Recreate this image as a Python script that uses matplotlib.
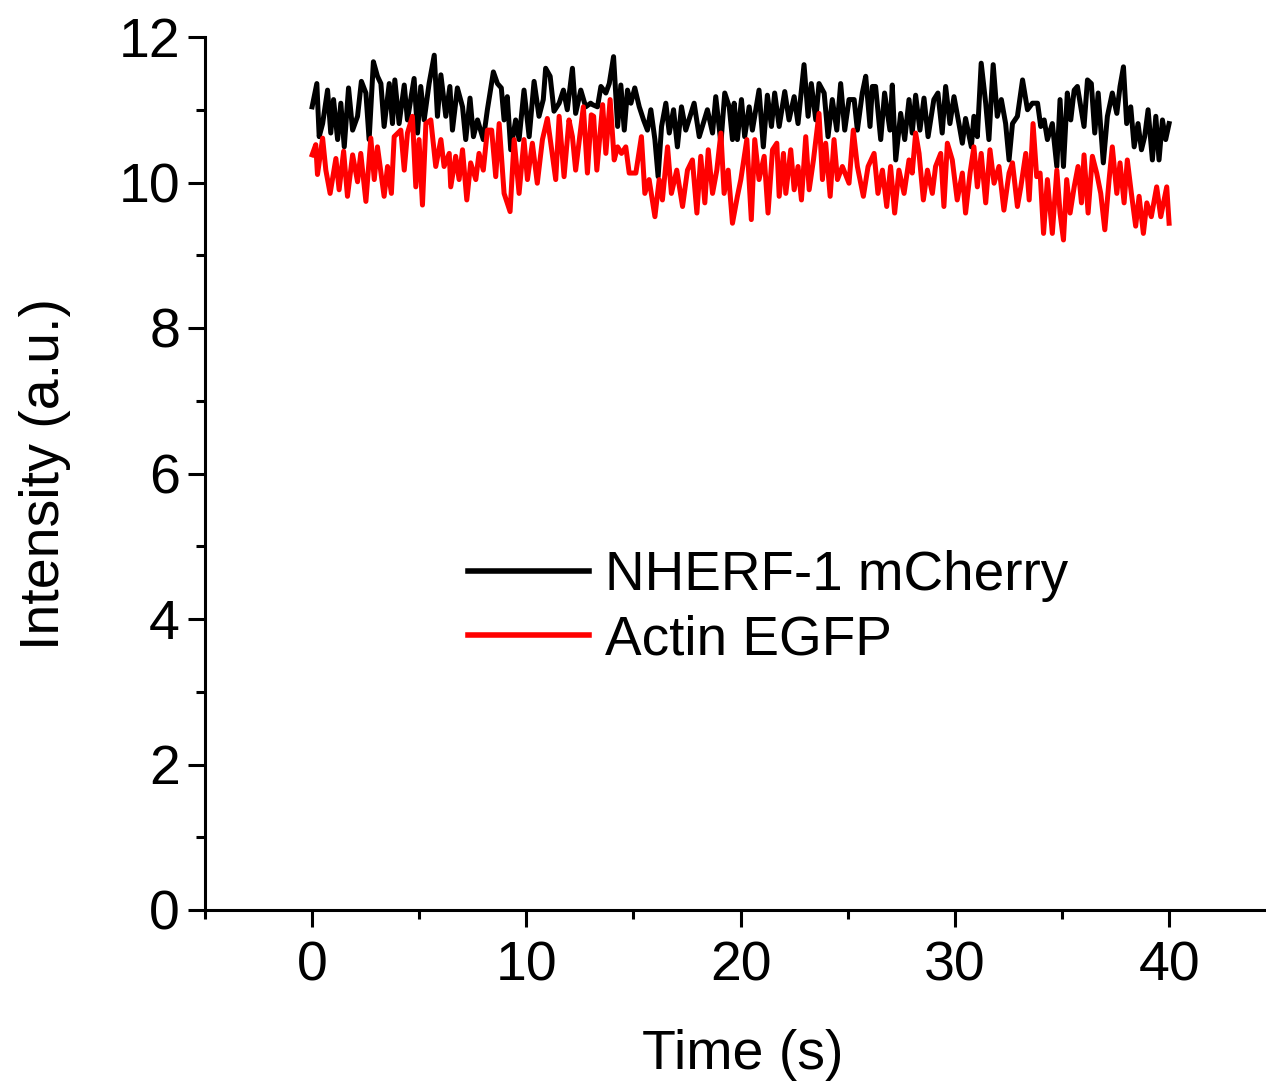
import matplotlib
matplotlib.use("Agg")
import matplotlib.pyplot as plt
from matplotlib.ticker import MultipleLocator

plt.rcParams['font.family'] = ['Liberation Sans', 'DejaVu Sans']

# NHERF-1 mCherry (black) - time (s), intensity (a.u.)
t_black = [0.0, 0.22, 0.33, 0.49, 0.72, 0.87, 1.0, 1.19, 1.34, 1.50, 1.70, 1.89, 2.12, 2.30, 2.51, 2.66,
           2.86, 3.05, 3.21, 3.36, 3.60, 3.75, 3.86, 4.06, 4.30, 4.45, 4.76, 4.92, 5.07, 5.23, 5.46, 5.70,
           5.85, 6.01, 6.24, 6.43, 6.55, 6.78, 7.02, 7.17, 7.37, 7.53, 7.72, 7.99, 8.18, 8.46, 8.65, 8.83,
           8.96, 9.11, 9.27, 9.50, 9.66, 9.89, 10.13, 10.36, 10.59, 10.79, 10.90, 11.11, 11.29, 11.53, 11.73,
           11.91, 12.15, 12.30, 12.54, 12.77, 13.00, 13.09, 13.32, 13.48, 13.71, 13.87, 14.07, 14.26, 14.41,
           14.57, 14.72, 14.88, 15.06, 15.27, 15.47, 15.65, 15.81, 16.00, 16.15, 16.31, 16.51, 16.67, 16.87,
           17.05, 17.24, 17.44, 17.83, 18.07, 18.45, 18.69, 18.84, 19.08, 19.26, 19.47, 19.62, 19.70, 19.85,
           20.04, 20.19, 20.40, 20.55, 20.86, 21.06, 21.25, 21.44, 21.59, 21.80, 22.06, 22.26, 22.50, 22.68,
           22.96, 23.15, 23.30, 23.51, 23.66, 23.90, 24.08, 24.28, 24.49, 24.67, 24.86, 25.06, 25.30, 25.45,
           25.68, 25.84, 26.04, 26.15, 26.30, 26.54, 26.72, 26.97, 27.08, 27.24, 27.47, 27.66, 27.86, 28.01,
           28.17, 28.37, 28.56, 28.75, 29.02, 29.21, 29.41, 29.57, 29.77, 29.96, 30.19, 30.35, 30.50, 30.77,
           30.89, 31.05, 31.23, 31.44, 31.59, 31.79, 31.98, 32.17, 32.37, 32.53, 32.69, 32.92, 33.16, 33.39,
           33.62, 33.86, 34.01, 34.17, 34.32, 34.55, 34.76, 34.91, 35.07, 35.25, 35.41, 35.57, 35.72, 35.88,
           36.03, 36.19, 36.37, 36.53, 36.69, 36.93, 37.12, 37.35, 37.56, 37.71, 37.87, 38.02, 38.21, 38.37,
           38.55, 38.71, 38.86, 39.02, 39.22, 39.38, 39.53, 39.69, 39.84, 40.0]
v_black = [11.04, 11.36, 10.63, 10.81, 11.27, 10.68, 11.14, 10.59, 11.09, 10.49, 11.30, 10.72, 10.91, 11.39,
           11.23, 10.59, 11.66, 11.46, 11.36, 10.77, 11.36, 10.81, 11.41, 10.81, 11.34, 10.86, 11.43, 10.68,
           11.32, 10.86, 11.36, 11.75, 10.91, 11.48, 10.91, 11.32, 10.72, 11.30, 11.04, 10.59, 11.16, 10.63,
           10.86, 10.59, 11.00, 11.52, 11.36, 11.30, 10.86, 11.18, 10.45, 10.86, 10.59, 11.27, 10.63, 11.39,
           10.91, 11.14, 11.57, 11.46, 10.98, 11.09, 11.27, 11.00, 11.57, 10.95, 11.27, 11.04, 11.09, 11.07,
           11.04, 11.32, 11.23, 11.36, 11.73, 10.77, 11.34, 10.72, 11.27, 11.09, 11.30, 11.04, 10.86, 10.72,
           11.00, 10.59, 10.08, 10.77, 11.09, 10.68, 11.00, 10.49, 11.04, 10.72, 11.09, 10.63, 11.00, 10.68,
           11.18, 10.54, 11.23, 11.04, 10.59, 11.09, 10.59, 11.14, 10.63, 11.04, 10.72, 11.27, 10.49, 11.20,
           10.77, 11.23, 10.77, 11.25, 10.86, 11.18, 10.81, 11.62, 10.91, 11.36, 10.86, 11.36, 11.23, 10.63,
           11.14, 10.72, 11.36, 10.72, 11.14, 11.14, 10.72, 11.23, 11.46, 10.77, 11.32, 11.32, 10.59, 11.23,
           10.72, 11.34, 10.31, 10.95, 10.59, 11.14, 10.68, 11.20, 10.72, 11.16, 10.63, 11.14, 11.23, 10.68,
           11.32, 10.81, 11.18, 10.81, 10.54, 10.88, 10.49, 10.91, 10.63, 11.64, 11.09, 10.59, 11.62, 10.91,
           11.14, 10.81, 10.31, 10.81, 10.91, 11.41, 11.00, 11.09, 11.09, 10.77, 10.86, 10.59, 10.81, 10.22,
           11.14, 10.22, 11.23, 10.86, 11.27, 11.32, 11.04, 10.77, 11.41, 11.36, 10.68, 11.23, 10.27, 10.91,
           11.23, 10.95, 11.32, 11.59, 10.81, 11.04, 10.49, 10.81, 10.45, 10.63, 11.00, 10.31, 10.91, 10.31,
           10.86, 10.59, 10.81]

# Actin EGFP (red) - time (s), intensity (a.u.)
t_red = [0.0, 0.17, 0.25, 0.49, 0.64, 0.84, 1.11, 1.26, 1.47, 1.65, 1.89, 2.12, 2.27, 2.51, 2.74, 2.90, 3.05,
         3.36, 3.52, 3.70, 3.83, 4.14, 4.30, 4.45, 4.68, 4.84, 4.99, 5.15, 5.31, 5.54, 5.77, 6.01, 6.16, 6.40,
         6.47, 6.70, 6.86, 7.02, 7.22, 7.40, 7.64, 7.79, 7.99, 8.18, 8.38, 8.57, 8.73, 8.96, 9.24, 9.43, 9.66,
         9.89, 10.05, 10.28, 10.51, 10.75, 10.98, 11.14, 11.37, 11.53, 11.76, 11.99, 12.15, 12.30, 12.66,
         12.85, 13.03, 13.14, 13.29, 13.56, 13.71, 13.91, 14.10, 14.26, 14.44, 14.64, 14.80, 15.11, 15.37,
         15.53, 15.73, 16.00, 16.20, 16.35, 16.59, 16.77, 17.02, 17.29, 17.52, 17.75, 17.96, 18.14, 18.33,
         18.49, 18.69, 18.89, 19.08, 19.23, 19.42, 19.62, 19.85, 20.01, 20.29, 20.50, 20.66, 20.86, 21.10,
         21.28, 21.49, 21.69, 21.80, 22.00, 22.11, 22.34, 22.50, 22.68, 22.84, 23.04, 23.20, 23.40, 23.66,
         23.82, 23.97, 24.18, 24.36, 24.52, 24.75, 25.06, 25.26, 25.45, 25.73, 25.95, 26.23, 26.41, 26.62,
         26.82, 27.00, 27.19, 27.39, 27.63, 27.86, 28.01, 28.17, 28.33, 28.53, 28.72, 28.95, 29.10, 29.34,
         29.49, 29.65, 29.88, 30.11, 30.35, 30.50, 30.71, 30.89, 31.05, 31.23, 31.44, 31.64, 31.83, 32.06,
         32.29, 32.53, 32.69, 32.92, 33.08, 33.31, 33.47, 33.65, 33.82, 33.98, 34.14, 34.32, 34.55, 34.76,
         34.91, 35.07, 35.22, 35.38, 35.57, 35.75, 35.91, 36.03, 36.22, 36.42, 36.62, 36.81, 37.00, 37.20,
         37.35, 37.56, 37.71, 37.90, 38.05, 38.24, 38.44, 38.60, 38.80, 38.96, 39.17, 39.42, 39.61, 39.89,
         40.0]
v_red = [10.38, 10.52, 10.11, 10.61, 10.17, 9.85, 10.33, 9.90, 10.43, 9.81, 10.38, 10.01, 10.40, 9.74, 10.61,
         10.04, 10.49, 9.81, 10.22, 9.85, 10.63, 10.72, 10.17, 10.68, 10.91, 9.94, 10.59, 9.69, 10.81, 10.86,
         10.22, 10.59, 10.22, 10.40, 9.94, 10.36, 10.04, 10.45, 9.76, 10.27, 10.04, 10.40, 10.17, 10.72, 10.72,
         10.08, 10.81, 9.85, 9.60, 10.59, 9.85, 10.59, 10.04, 10.54, 9.99, 10.59, 10.88, 10.54, 10.04, 10.91,
         10.08, 10.86, 10.63, 10.17, 11.04, 10.13, 10.93, 10.91, 10.17, 11.07, 10.40, 11.14, 10.31, 10.49,
         10.40, 10.49, 10.13, 10.13, 10.63, 9.85, 10.04, 9.53, 10.04, 9.76, 10.49, 9.85, 10.17, 9.67, 10.17,
         10.31, 9.58, 10.36, 9.72, 10.45, 9.85, 10.17, 10.68, 9.85, 10.17, 9.44, 9.81, 10.04, 10.59, 9.49,
         10.59, 10.04, 10.36, 9.58, 10.45, 10.54, 9.81, 10.40, 9.85, 10.45, 9.90, 10.22, 9.76, 10.63, 9.90,
         10.31, 10.95, 10.04, 10.54, 9.81, 10.59, 10.04, 10.22, 9.99, 10.72, 10.22, 9.81, 10.22, 10.40, 9.85,
         10.17, 9.67, 10.22, 9.58, 10.17, 9.85, 10.31, 10.13, 10.68, 10.40, 9.76, 10.17, 9.85, 10.22, 10.40,
         9.67, 10.54, 10.31, 9.76, 10.13, 9.58, 10.13, 10.49, 9.94, 10.40, 9.72, 10.45, 9.99, 10.22, 9.62,
         10.13, 10.27, 9.67, 9.94, 10.40, 9.76, 10.81, 10.08, 10.13, 9.30, 10.04, 9.30, 10.17, 9.58, 9.21,
         10.04, 9.58, 9.94, 10.22, 9.72, 10.38, 9.58, 10.36, 10.13, 9.85, 9.35, 10.04, 10.49, 9.85, 10.27,
         9.72, 10.31, 9.85, 9.40, 9.81, 9.30, 9.72, 9.53, 9.94, 9.53, 9.94, 9.44]

labels = ["NHERF-1 mCherry", "Actin EGFP"]
x_ticks = [0, 10, 20, 30, 40]
y_ticks = [0, 2, 4, 6, 8, 10, 12]

fig = plt.figure(figsize=(12.66, 10.83), dpi=100)
ax = fig.add_axes([205/1266, 1 - 910/1083, 1060.5/1266, 873/1083])

ax.plot(t_black, v_black, color='black', lw=3.6, label=labels[0])
ax.plot(t_red, v_red, color='#ff0000', lw=3.6, label=labels[1])

ax.set_xlim(-5, 44.5)
ax.set_ylim(0, 12)
ax.set_xticks(x_ticks)
ax.set_yticks(y_ticks)
ax.xaxis.set_minor_locator(MultipleLocator(5))
ax.yaxis.set_minor_locator(MultipleLocator(1))

for s in ['top', 'right']:
    ax.spines[s].set_visible(False)
for s in ['left', 'bottom']:
    ax.spines[s].set_linewidth(2.2)

ax.tick_params(which='major', direction='out', length=12, width=2.2, labelsize=40, pad=6)
ax.tick_params(axis='x', which='major', pad=10)
ax.tick_params(which='minor', direction='out', length=6.5, width=2.2)

ax.set_xlabel("Time (s)", fontsize=40, labelpad=26)
ax.xaxis.label.set_x(0.507)
ax.set_ylabel("Intensity (a.u.)", fontsize=40, labelpad=34)

leg = ax.legend(loc='upper left', bbox_to_anchor=(0.248, 0.412), frameon=False, fontsize=39.5,
                borderpad=0, handlelength=2.2, handletextpad=0.3, labelspacing=0.22, borderaxespad=0)
for h in leg.get_lines():
    h.set_linewidth(4)

fig.savefig("out.png", dpi=100)
